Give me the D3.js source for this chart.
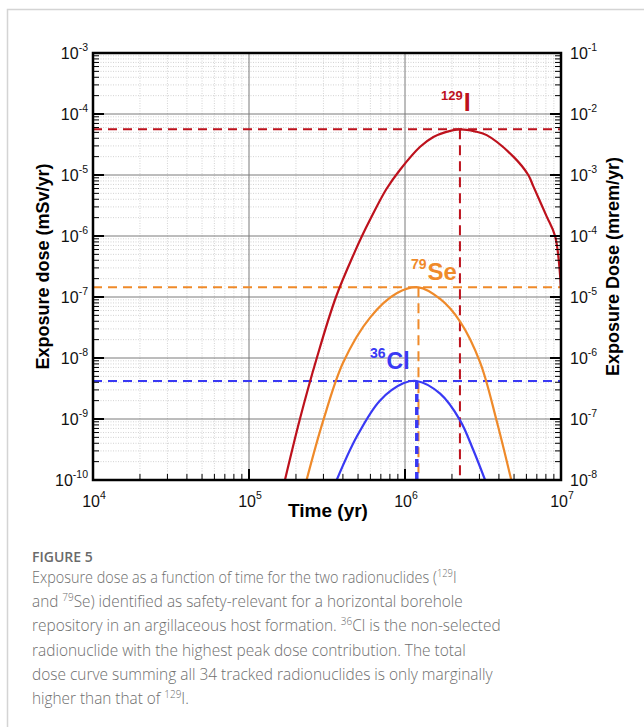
<!DOCTYPE html>
<html>
<head>
<meta charset="utf-8">
<script src="https://cdn.jsdelivr.net/npm/d3@7"></script>
<style>
  body { margin: 0; background: #fff; }
  svg { display: block; }
</style>
</head>
<body>
<div id="vis"></div>
<script>
// dose curves: [time (yr), dose (mSv/yr)]
const i129 = [
  [1.70e5, 1.0e-10], [2.12e5, 1.0e-9], [2.72e5, 1.0e-8], [3.61e5, 1.0e-7],
  [4.78e5, 5.6e-7], [5.30e5, 1.0e-6], [6.0e5, 1.9e-6], [7.6e5, 5.9e-6],
  [9.3e5, 1.22e-5], [1.25e6, 2.9e-5], [1.52e6, 4.2e-5], [1.8e6, 5.0e-5],
  [2.25e6, 5.6e-5], [2.8e6, 5.2e-5], [3.34e6, 4.5e-5], [4.95e6, 2.0e-5],
  [6.17e6, 1.0e-5], [6.65e6, 6.5e-6], [8.09e6, 2.1e-6], [9.16e6, 1.0e-6],
  [1.0e7, 1.39e-7]
];
const se79 = [
  [2.34e5, 1.0e-10], [2.99e5, 9.4e-10], [4.02e5, 8.5e-9], [5.97e5, 4.6e-8],
  [8.85e5, 1.15e-7], [1.22e6, 1.44e-7], [1.68e6, 9.3e-8], [2.25e6, 4.0e-8],
  [3.03e6, 8.5e-9], [3.87e6, 9.3e-10], [4.8e6, 1.0e-10]
];
const cl36 = [
  [3.65e5, 1.0e-10], [4.9e5, 5.1e-10], [6.9e5, 2.0e-9], [9.75e5, 3.85e-9],
  [1.19e6, 4.2e-9], [1.68e6, 2.6e-9], [2.25e6, 9.6e-10], [2.74e6, 3.1e-10],
  [3.26e6, 1.0e-10]
];

// peak markers (dashed lines)
const peakNames = ['I', 'Se', 'Cl'];
const peakTimes = [2.25e6, 1.22e6, 1.19e6];
const peakDoses = [5.6e-5, 1.44e-7, 4.2e-9];
const peakMass = ['129', '79', '36'];

const xTickExp = [4, 5, 6, 7];
const yLeftExp = [-10, -9, -8, -7, -6, -5, -4, -3];
const yRightExp = [-8, -7, -6, -5, -4, -3, -2, -1];

const colors = { I: '#bd111c', Se: '#ef8a2a', Cl: '#3939f4' };

const W = 644, H = 727;
const margin = { top: 53, left: 93, right: 83, bottom: 247 };

let svg = d3.select('#vis')
  .append('svg')
  .attr('width', W)
  .attr('height', H)
  .style('font-family', 'Liberation Sans, Arial, sans-serif');

svg.append('rect').attr('width', W).attr('height', H).attr('fill', '#fff');

// figure frame
svg.append('path')
  .attr('d', `M7.5,${H} V9.5 H${W}`)
  .attr('fill', 'none')
  .attr('stroke', '#d4d4d4')
  .attr('stroke-width', 1.5);

let x = d3.scaleLog().domain([1e4, 1e7]).range([margin.left, W - margin.right]);
let y = d3.scaleLog().domain([1e-10, 1e-3]).range([H - margin.bottom, margin.top]);
let y2 = d3.scaleLog().domain([1e-8, 1e-1]).range([H - margin.bottom, margin.top]);

const x0 = x.range()[0], x1 = x.range()[1];
const yb = y.range()[0], yt = y.range()[1];

// minor values for grid / ticks
function minors(lo, hi) {
  let out = [];
  for (let e = lo; e < hi; e++)
    for (let m = 2; m <= 9; m++) out.push(m * Math.pow(10, e));
  return out;
}
const xMinor = minors(4, 7);
const yMinor = minors(-10, -3);

let grid = svg.append('g');
grid.selectAll('.xmin').data(xMinor).join('line')
  .attr('x1', d => x(d)).attr('x2', d => x(d))
  .attr('y1', yt).attr('y2', yb)
  .attr('stroke', '#c8c8c8').attr('stroke-width', 0.8).attr('stroke-dasharray', '1,1.5');
grid.selectAll('.ymin').data(yMinor).join('line')
  .attr('x1', x0).attr('x2', x1)
  .attr('y1', d => y(d)).attr('y2', d => y(d))
  .attr('stroke', '#c8c8c8').attr('stroke-width', 0.8).attr('stroke-dasharray', '1,1.5');
grid.selectAll('.xmaj').data(xTickExp.slice(1, -1)).join('line')
  .attr('x1', d => x(Math.pow(10, d))).attr('x2', d => x(Math.pow(10, d)))
  .attr('y1', yt).attr('y2', yb)
  .attr('stroke', '#7a7a7a').attr('stroke-width', 1);
grid.selectAll('.ymaj').data(yLeftExp.slice(1, -1)).join('line')
  .attr('x1', x0).attr('x2', x1)
  .attr('y1', d => y(Math.pow(10, d))).attr('y2', d => y(Math.pow(10, d)))
  .attr('stroke', '#7a7a7a').attr('stroke-width', 1);

svg.append('clipPath').attr('id', 'plot')
  .append('rect').attr('x', x0).attr('y', yt).attr('width', x1 - x0).attr('height', yb - yt);

let plot = svg.append('g').attr('clip-path', 'url(#plot)');

// dashed peak lines
peakNames.forEach((n, i) => {
  plot.append('line')
    .attr('x1', x0).attr('x2', x1)
    .attr('y1', y(peakDoses[i])).attr('y2', y(peakDoses[i]))
    .attr('stroke', colors[n]).attr('stroke-width', 2).attr('stroke-dasharray', '9,6');
  plot.append('line')
    .attr('x1', x(peakTimes[i])).attr('x2', x(peakTimes[i]))
    .attr('y1', y(peakDoses[i])).attr('y2', yb)
    .attr('stroke', colors[n])
    .attr('stroke-width', n === 'Cl' ? 3.5 : 2)
    .attr('stroke-dasharray', n === 'Cl' ? '8,5' : '10,6');
});

let line = d3.line()
  .x(d => x(d[0]))
  .y(d => y(d[1]))
  .curve(d3.curveCatmullRom.alpha(0.5));

[[i129, 'I'], [se79, 'Se'], [cl36, 'Cl']].forEach(([data, n]) => {
  plot.append('path')
    .datum(data)
    .attr('d', line)
    .attr('fill', 'none')
    .attr('stroke', colors[n])
    .attr('stroke-width', 2.2);
});

// ticks
let ticks = svg.append('g').attr('stroke', '#000');
ticks.selectAll('.lt').data(yMinor).join('line')
  .attr('x1', x0).attr('x2', x0 + 6).attr('y1', d => y(d)).attr('y2', d => y(d)).attr('stroke-width', 1);
ticks.selectAll('.rt').data(yMinor).join('line')
  .attr('x1', x1).attr('x2', x1 - 6).attr('y1', d => y(d)).attr('y2', d => y(d)).attr('stroke-width', 1);
ticks.selectAll('.ltm').data(yLeftExp).join('line')
  .attr('x1', x0).attr('x2', x0 + 11).attr('y1', d => y(Math.pow(10, d))).attr('y2', d => y(Math.pow(10, d))).attr('stroke-width', 2);
ticks.selectAll('.rtm').data(yLeftExp).join('line')
  .attr('x1', x1).attr('x2', x1 - 11).attr('y1', d => y(Math.pow(10, d))).attr('y2', d => y(Math.pow(10, d))).attr('stroke-width', 2);
ticks.selectAll('.bt').data(xMinor).join('line')
  .attr('x1', d => x(d)).attr('x2', d => x(d)).attr('y1', yb).attr('y2', yb - 6).attr('stroke-width', 1);
ticks.selectAll('.btm').data(xTickExp).join('line')
  .attr('x1', d => x(Math.pow(10, d))).attr('x2', d => x(Math.pow(10, d))).attr('y1', yb).attr('y2', yb - 11).attr('stroke-width', 2);

// plot frame
svg.append('rect')
  .attr('x', x0).attr('y', yt).attr('width', x1 - x0).attr('height', yb - yt)
  .attr('fill', 'none').attr('stroke', '#000').attr('stroke-width', 2.5);

// power-of-ten label helper
function powLabel(g, px, py, exp, anchor) {
  let t = g.append('text')
    .attr('x', px).attr('y', py)
    .attr('text-anchor', anchor)
    .attr('font-size', 16)
    .attr('fill', '#111');
  t.append('tspan').text('10');
  t.append('tspan').attr('dy', -8).attr('font-size', 10.5).text(String(exp));
  return t;
}

let labels = svg.append('g');
yLeftExp.forEach(e => powLabel(labels, x0 - 5, y(Math.pow(10, e)) + 6, e, 'end'));
yRightExp.forEach(e => powLabel(labels, x1 + 9, y2(Math.pow(10, e)) + 6, e, 'start'));
xTickExp.forEach(e => powLabel(labels, x(Math.pow(10, e)) + 1, yb + 27, e, 'middle'));

// axis titles
svg.append('text')
  .attr('transform', `translate(${43 + 6},${(yt + yb) / 2}) rotate(-90)`)
  .attr('text-anchor', 'middle')
  .attr('font-size', 18).attr('font-weight', 'bold')
  .text('Exposure dose (mSv/yr)');
svg.append('text')
  .attr('transform', `translate(${613 + 6},${(yt + yb) / 2}) rotate(-90)`)
  .attr('text-anchor', 'middle')
  .attr('font-size', 18).attr('font-weight', 'bold')
  .text('Exposure Dose (mrem/yr)');
svg.append('text')
  .attr('x', 328).attr('y', 517)
  .attr('text-anchor', 'middle')
  .attr('font-size', 19).attr('font-weight', 'bold')
  .text('Time (yr)');

// nuclide labels
const labelPos = { I: [441, 111, 13, 25], Se: [411, 280, 14, 24], Cl: [370, 369, 14, 23] };
peakNames.forEach((n, i) => {
  let p = labelPos[n];
  let t = svg.append('text')
    .attr('x', p[0]).attr('y', p[1])
    .attr('font-weight', 'bold')
    .attr('fill', colors[n]);
  t.append('tspan').attr('font-size', p[2]).attr('dy', -11).text(peakMass[i]);
  t.append('tspan').attr('font-size', p[3]).attr('dy', 11).attr('dx', 1).text(n);
});

// caption
svg.append('text')
  .attr('x', 32).attr('y', 562)
  .attr('font-family', 'Open Sans, sans-serif')
  .attr('font-size', 14).attr('font-weight', 600)
  .attr('fill', '#6a6a6a')
  .text('FIGURE 5');

const captionLines = [
  [['Exposure dose as a function of time for the two radionuclides ('], ['129', 1], ['I']],
  [['and '], ['79', 1], ['Se) identified as safety-relevant for a horizontal borehole']],
  [['repository in an argillaceous host formation. '], ['36', 1], ['Cl is the non-selected']],
  [['radionuclide with the highest peak dose contribution. The total']],
  [['dose curve summing all 34 tracked radionuclides is only marginally']],
  [['higher than that of '], ['129', 1], ['I.']]
];
const captionEnds = [457, 463, 501, 466, 493, 189];

captionLines.forEach((segs, i) => {
  let yy = 583 + i * 24.2;
  let g = svg.append('g');
  let t = g.append('text')
    .attr('x', 0).attr('y', 0)
    .attr('font-family', 'Open Sans, sans-serif')
    .attr('font-size', 17).attr('font-weight', 300)
    .attr('fill', '#6e6e6e');
  let up = false;
  segs.forEach(s => {
    let ts = t.append('tspan').text(s[0]);
    if (s[1]) { ts.attr('dy', -6).attr('font-size', 11); up = true; }
    else if (up) { ts.attr('dy', 6); up = false; }
  });
  let w = t.node().getComputedTextLength();
  let sx = (captionEnds[i] - 32) / w;
  g.attr('transform', `translate(32,${yy}) scale(${sx},1)`);
});
</script>
</body>
</html>
